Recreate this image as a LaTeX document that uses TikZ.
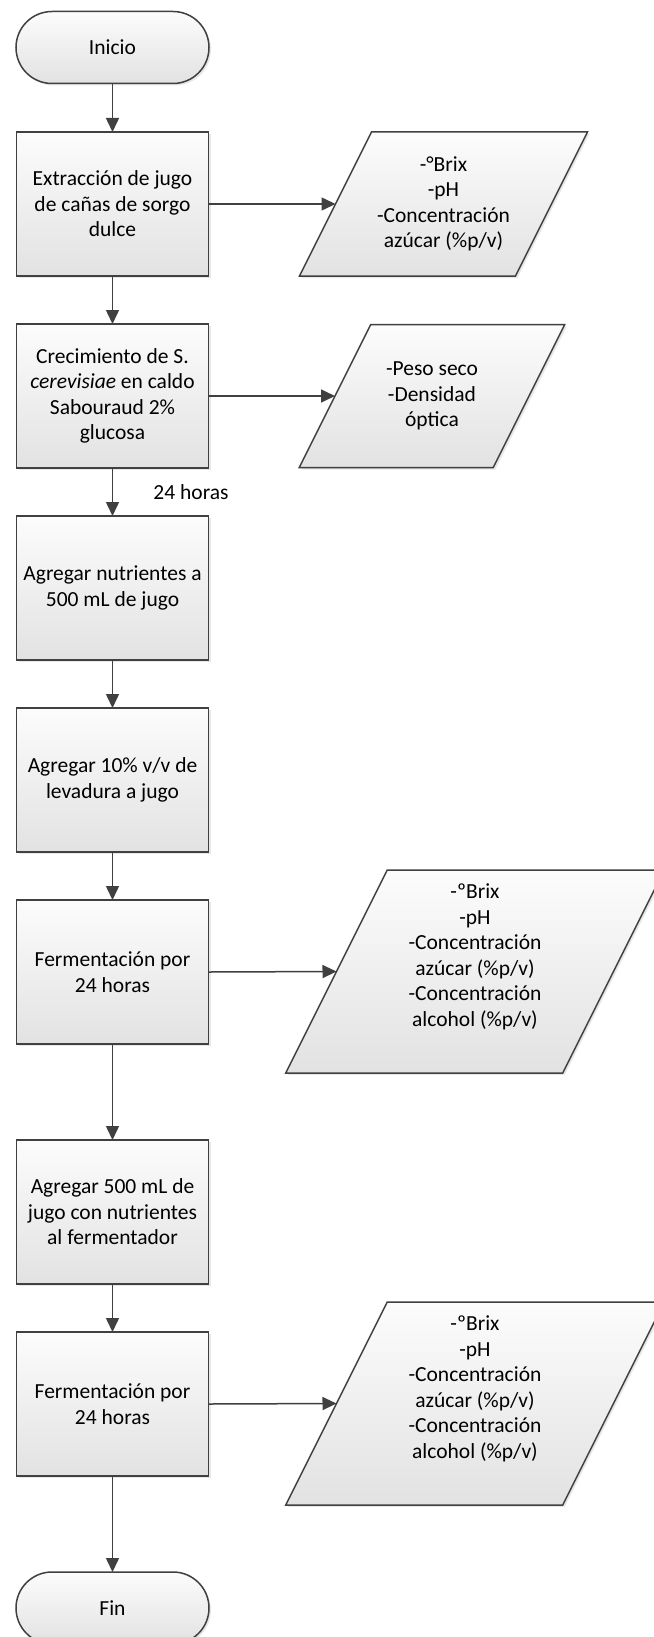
\documentclass[tikz,border=0pt]{standalone}
\usepackage{fontspec}
\setmainfont{Carlito}
\usetikzlibrary{arrows.meta,shadows}

\definecolor{edge}{RGB}{64,64,64}
\definecolor{fillTop}{RGB}{252,252,252}
\definecolor{fillBot}{RGB}{226,226,226}

\tikzset{
  skin/.style={draw=edge, line width=1.5pt, top color=fillTop, bottom color=fillBot,
    drop shadow={shadow xshift=2pt, shadow yshift=-2pt, opacity=0.18}},
  base/.style={skin, align=center, font=\fontsize{21.5}{25.5}\selectfont,
    inner sep=0pt, outer sep=0pt},
  stepbox/.style={base, rectangle, minimum width=192pt, minimum height=144pt},
  term/.style={base, rectangle, rounded corners=36pt, minimum width=193pt, minimum height=72pt},
  iotext/.style={align=center, font=\fontsize{21.5}{25.5}\selectfont, inner sep=0pt},
  flow/.style={draw=edge, line width=1.5pt, -{Triangle[width=13pt,length=14pt]}},
  lbl/.style={font=\fontsize{21.5}{25.5}\selectfont, inner sep=0pt}
}

% data symbol: name, centre x, centre y, edge length, height, text
% the sides lean by half the height; (name-in) is the middle of the left side
\newcommand\ioshape[6]{%
  \path[skin] ({#2-#4/2-#5/4},{#3+#5/2}) -- ({#2+#4/2-#5/4},{#3+#5/2})
    -- ({#2+#4/2+#5/4},{#3-#5/2}) -- ({#2-#4/2+#5/4},{#3-#5/2}) -- cycle;
  \node[iotext] (#1) at (#2,#3) {#6};
  \coordinate (#1-in) at ({#2-#4/2},#3);
}

\begin{document}
\begin{tikzpicture}[x=1pt,y=-1pt]
\useasboundingbox (0,0) rectangle (653,1637);
\fill[white] (0,0) rectangle (653,1637);

% main column
\node[term] (inicio) at (112.5,47.5) {Inicio};
\node[stepbox] (b1) at (112.5,204) {Extracción de jugo\\de cañas de sorgo\\dulce};
\node[stepbox] (b2) at (112.5,396) {Crecimiento de S.\\\emph{cerevisiae} en caldo\\Sabouraud 2\%\\glucosa};
\node[stepbox] (b3) at (112.5,588) {Agregar nutrientes a\\500 mL de jugo};
\node[stepbox] (b4) at (112.5,780) {Agregar 10\% v/v de\\levadura a jugo};
\node[stepbox] (b5) at (112.5,972) {Fermentación por\\24 horas};
\node[stepbox] (b6) at (112.5,1212) {Agregar 500 mL de\\jugo con nutrientes\\al fermentador};
\node[stepbox] (b7) at (112.5,1404) {Fermentación por\\24 horas};
\node[term] (fin) at (112.5,1608) {Fin};

% measurements
\ioshape{p1}{443.5}{204}{216}{144}{-°Brix\\-pH\\-Concentración\\azúcar (\%p/v)}
\ioshape{p2}{432}{396}{194}{143}{-Peso seco\\-Densidad\\óptica}
\ioshape{p3}{475}{971.5}{277}{203}{-ºBrix\\-pH\\-Concentración\\azúcar (\%p/v)\\-Concentración\\alcohol (\%p/v)\\\strut}
\ioshape{p4}{475}{1403.5}{277}{203}{-ºBrix\\-pH\\-Concentración\\azúcar (\%p/v)\\-Concentración\\alcohol (\%p/v)\\\strut}

% connectors
\draw[flow] (inicio.south) -- (b1.north);
\draw[flow] (b1.south) -- (b2.north);
\draw[flow] (b2.south) -- (b3.north);
\node[lbl] (t24) at (191,492) {24 horas};
\draw[flow] (b3.south) -- (b4.north);
\draw[flow] (b4.south) -- (b5.north);
\draw[flow] (b5.south) -- (b6.north);
\draw[flow] (b6.south) -- (b7.north);
\draw[flow] (b7.south) -- (fin.north);

\draw[flow] (b1.east) -- (p1-in);
\draw[flow] (b2.east) -- (p2-in);
\draw[flow] (b5.east) -- (p3-in);
\draw[flow] (b7.east) -- (p4-in);
\end{tikzpicture}
\end{document}
